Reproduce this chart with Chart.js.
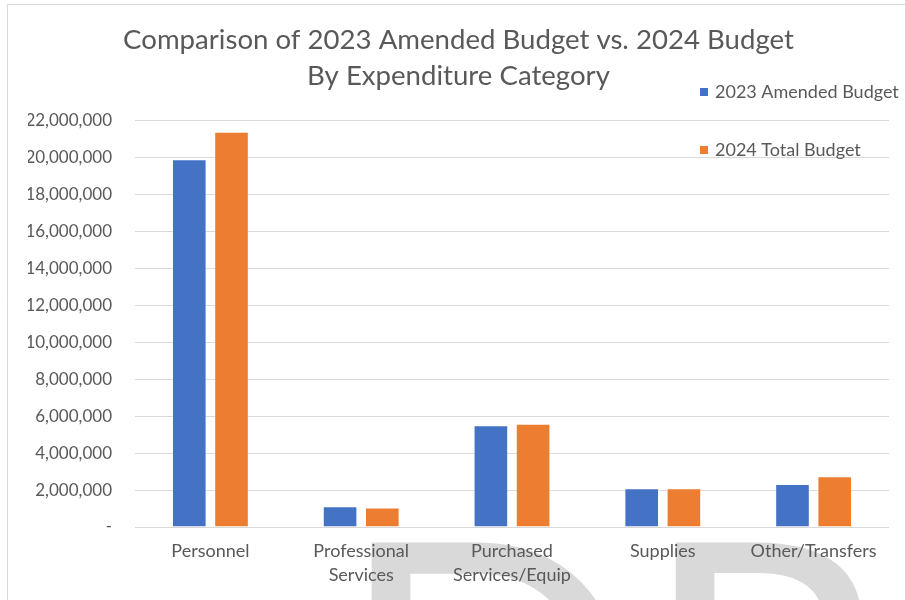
<!DOCTYPE html>
<html><head><meta charset="utf-8">
<script src="https://cdn.jsdelivr.net/npm/chart.js@4.4.0/dist/chart.umd.min.js"></script>
<style>html,body{margin:0;padding:0;background:#fff;}#wrap{position:relative;width:905px;height:600px;overflow:hidden;}</style>
</head><body><div id="wrap"><canvas id="c" width="905" height="600"></canvas></div>
<script>
const categories = [['Personnel'], ['Professional', 'Services'], ['Purchased', 'Services/Equip'], ['Supplies'], ['Other/Transfers']];
const budget2023 = [19900000, 1120000, 5510000, 2090000, 2320000];
const budget2024 = [21380000, 1050000, 5590000, 2090000, 2740000];
const seriesNames = ['2023 Amended Budget', '2024 Total Budget'];
const seriesColors = ['#4472C4', '#ED7D31'];
const titleLines = ['Comparison of 2023 Amended Budget vs. 2024 Budget', 'By Expenditure Category'];
const yMin = 0, yMax = 22000000, yStep = 2000000;
const watermarkText = 'DRAFT';

const FONT = 'Lato, "Open Sans", sans-serif';
const TEXT = '#595959';

const decor = {
  id: 'decor',
  beforeDraw(chart) {
    const ctx = chart.ctx;
    ctx.save();
    ctx.fillStyle = '#fff';
    ctx.fillRect(0, 0, chart.width, chart.height);
    ctx.fillStyle = '#d9d9d9';
    ctx.font = '400 400px Lato, sans-serif';
    ctx.textBaseline = 'alphabetic';
    ctx.textAlign = 'left';
    try { ctx.letterSpacing = '0px'; } catch (e) {}
    ctx.fillText(watermarkText, 335, 829);
    ctx.restore();
  },
  afterDraw(chart) {
    const ctx = chart.ctx;
    ctx.save();
    ctx.strokeStyle = '#d9d9d9';
    ctx.lineWidth = 1;
    ctx.beginPath();
    ctx.moveTo(7.5, 600);
    ctx.lineTo(7.5, 4.5);
    ctx.lineTo(905, 4.5);
    ctx.stroke();
    // legend
    ctx.font = '18px ' + FONT;
    ctx.textBaseline = 'middle';
    ctx.textAlign = 'left';
    chart.data.datasets.forEach((ds, i) => {
      const y = 92 + i * 58;
      ctx.fillStyle = ds.backgroundColor;
      ctx.fillRect(700, y - 4, 8, 8);
      ctx.fillStyle = TEXT;
      ctx.fillText(ds.label, 715, y);
    });
    ctx.restore();
  }
};

new Chart(document.getElementById('c'), {
  type: 'bar',
  data: {
    labels: categories,
    datasets: [
      { label: seriesNames[0], data: budget2023, backgroundColor: seriesColors[0], borderColor: 'rgba(255,255,255,0.35)', borderWidth: 1 },
      { label: seriesNames[1], data: budget2024, backgroundColor: seriesColors[1], borderColor: 'rgba(255,255,255,0.35)', borderWidth: 1 }
    ]
  },
  options: {
    responsive: false,
    animation: false,
    devicePixelRatio: 1,
    layout: { padding: { left: 28, right: 16, top: 0, bottom: 13 } },
    datasets: { bar: { categoryPercentage: 0.56, barPercentage: 0.82 } },
    plugins: {
      legend: { display: false },
      tooltip: { enabled: false },
      title: {
        display: true,
        text: titleLines,
        color: TEXT,
        font: { family: FONT, size: 27.6, weight: 'normal', lineHeight: 1.31 },
        padding: { top: 22, bottom: 26 }
      }
    },
    scales: {
      x: {
        grid: { display: false, drawTicks: false },
        border: { display: false },
        ticks: { color: TEXT, font: { family: FONT, size: 18, lineHeight: 1.333 }, padding: 12, maxRotation: 0, autoSkip: false },
        afterFit(s) { s.height = 60; }
      },
      y: {
        min: yMin, max: yMax,
        grid: { color: '#d9d9d9', drawTicks: false, lineWidth: 1 },
        border: { display: false },
        ticks: {
          stepSize: yStep, color: TEXT, padding: 23,
          font: { family: FONT, size: 17 },
          callback: v => v === 0 ? '-' : v.toLocaleString('en-US')
        },
        afterFit(s) { s.width = 107; }
      }
    }
  },
  plugins: [decor]
});
</script></body></html>
